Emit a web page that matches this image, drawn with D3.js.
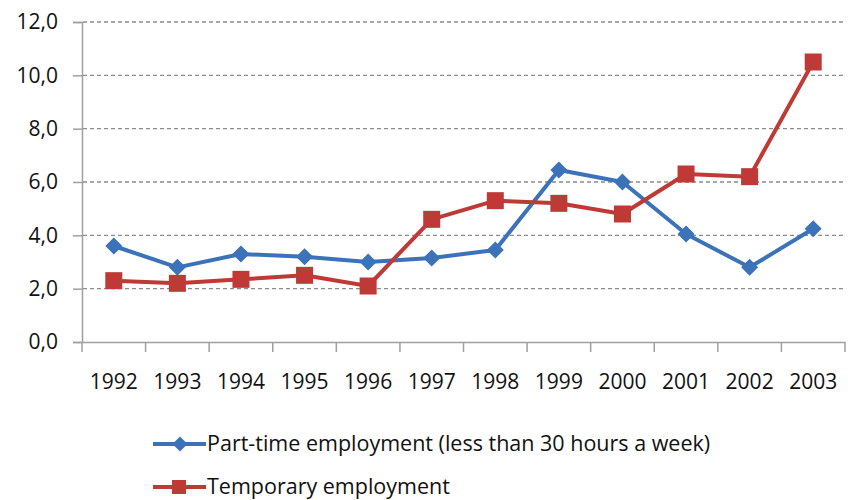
<!DOCTYPE html>
<html><head><meta charset="utf-8">
<script src="https://cdn.jsdelivr.net/npm/d3@7"></script>
<style>body{margin:0;background:#fff}svg{display:block}</style>
</head><body>
<svg id="c" width="848" height="500"></svg>
<script>
const years = ["1992","1993","1994","1995","1996","1997","1998","1999","2000","2001","2002","2003"];
const partTime = [3.6,2.8,3.3,3.2,3.0,3.15,3.45,6.45,6.0,4.05,2.8,4.25];
const temporary = [2.3,2.2,2.35,2.5,2.1,4.6,5.3,5.2,4.8,6.3,6.2,10.5];
const yTicks = [0,2,4,6,8,10,12];
const seriesNames = ["Part-time employment (less than 30 hours a week)","Temporary employment"];
const colors = ["#3b72b9","#bf3a37"];

const svg = d3.select("#c");
const font = "'Open Sans', 'Noto Sans', sans-serif";
const L = 82, R = 845, T = 22, B = 342;
const x = d3.scaleBand().domain(years).range([L, R]);
const y = d3.scaleLinear().domain([0, 12]).range([B, T]);

// gridlines
svg.append("g").selectAll("line").data(yTicks.filter(d => d > 0)).join("line")
  .attr("x1", L + 1).attr("x2", R).attr("y1", d => y(d)).attr("y2", d => y(d))
  .attr("stroke", "#8c8c8c").attr("stroke-width", 1.3).attr("stroke-dasharray", "4,3");

// y axis
const ya = svg.append("g").attr("transform", `translate(${L},0)`)
  .call(d3.axisLeft(y).tickValues(yTicks).tickSize(9).tickFormat(d => d3.format(".1f")(d).replace(".", ",")));
ya.select(".domain").attr("stroke", "#a0a0a0").attr("stroke-width", 1.5);
ya.selectAll(".tick line").attr("stroke", "#a0a0a0").attr("stroke-width", 1.5);
ya.selectAll("text").attr("font-family", font).attr("font-size", 21).attr("fill", "#111").attr("x", -24);

// x axis
const xa = svg.append("g").attr("transform", `translate(0,${B})`)
  .call(d3.axisBottom(x).tickSize(0).tickSizeOuter(0));
xa.select(".domain").attr("stroke", "#a0a0a0").attr("stroke-width", 1.5);
xa.selectAll(".tick text").attr("font-family", font).attr("font-size", 21).attr("fill", "#111").attr("dy", 0).attr("y", 47);
// x tick marks at band boundaries
const bounds = years.map(d => x(d)).concat([R]);
svg.append("g").selectAll("line").data(bounds).join("line")
  .attr("x1", d => d).attr("x2", d => d).attr("y1", B).attr("y2", B + 10)
  .attr("stroke", "#a0a0a0").attr("stroke-width", 1.5);

const cx = d => x(d) + x.bandwidth() / 2;
const line = d3.line().x((d, i) => cx(years[i])).y(d => y(d));
const diamond = s => `M0,${-s}L${s},0L0,${s}L${-s},0Z`;

[partTime, temporary].forEach((vals, k) => {
  svg.append("path").datum(vals).attr("d", line).attr("fill", "none")
    .attr("stroke", colors[k]).attr("stroke-width", 4).attr("stroke-linejoin", "round");
  const g = svg.append("g");
  if (k === 0) {
    g.selectAll("path").data(vals).join("path")
      .attr("transform", (d, i) => `translate(${cx(years[i])},${y(d)})`)
      .attr("d", diamond(8.5)).attr("fill", colors[k]);
  } else {
    g.selectAll("rect").data(vals).join("rect")
      .attr("x", (d, i) => cx(years[i]) - 8.5).attr("y", d => y(d) - 8.5)
      .attr("width", 17).attr("height", 17).attr("fill", colors[k]);
  }
});

// legend
const leg = svg.append("g");
const legY = [444, 487];
seriesNames.forEach((name, k) => {
  leg.append("line").attr("x1", 153).attr("x2", 206).attr("y1", legY[k]).attr("y2", legY[k])
    .attr("stroke", colors[k]).attr("stroke-width", 4);
  if (k === 0) {
    leg.append("path").attr("transform", `translate(180,${legY[k]})`).attr("d", diamond(7.5)).attr("fill", colors[k]);
  } else {
    leg.append("rect").attr("x", 172).attr("y", legY[k] - 7).attr("width", 14).attr("height", 14).attr("fill", colors[k]);
  }
  leg.append("text").attr("x", 207).attr("y", legY[k] + 7).attr("font-family", font).attr("font-size", 21.5)
    .attr("fill", "#111").text(name);
});
</script>
</body></html>
